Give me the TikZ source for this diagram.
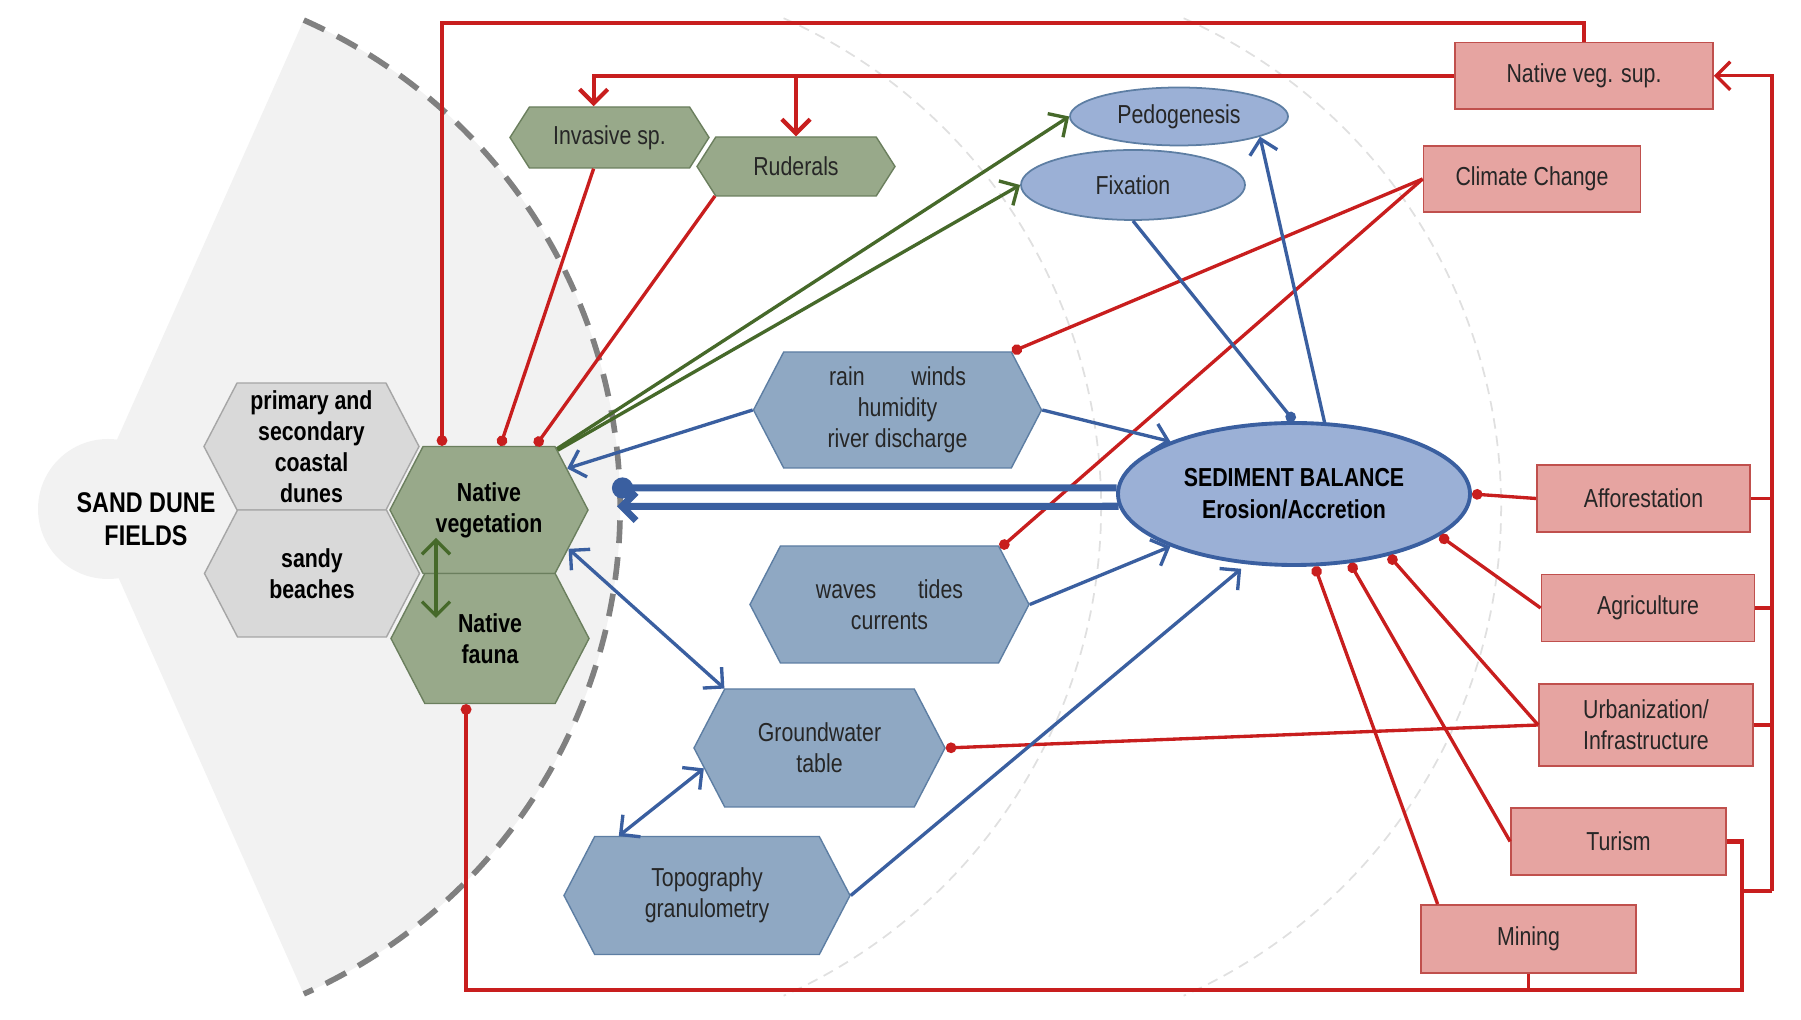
\documentclass[tikz,border=0pt]{standalone}
\usepackage{fontspec}
\setmainfont{Liberation Sans}[FakeStretch=0.82]
\usetikzlibrary{shapes.geometric,shapes.symbols,arrows.meta}
\definecolor{cFan}{HTML}{F2F2F2}
\definecolor{cDash}{HTML}{808080}
\definecolor{cFaint}{HTML}{E0E0E0}
\definecolor{cGreyHex}{HTML}{D9D9D9}
\definecolor{cSage}{HTML}{98A98A}
\definecolor{cSageLine}{HTML}{6B7F5E}
\definecolor{cSteel}{HTML}{8FA8C3}
\definecolor{cSteelLine}{HTML}{5D7EA3}
\definecolor{cLilac}{HTML}{9BB0D6}
\definecolor{cPink}{HTML}{E6A4A1}
\definecolor{cPinkLine}{HTML}{C0504D}
\definecolor{cRed}{HTML}{C81E1E}
\definecolor{cBlue}{HTML}{3A5FA0}
\definecolor{cGreen}{HTML}{46692A}
\tikzset{
  txt/.style={font=\fontsize{7.4}{8.8}\selectfont, text=black!85, align=center, inner sep=0pt},
  bold/.style={txt, font=\bfseries\fontsize{7.4}{8.8}\selectfont, text=black},
  hexa/.style={signal, signal to=east and west, signal pointer angle=125, line width=0.4pt},
  greyhex/.style={hexa, bold, fill=cGreyHex, draw=black!35},
  greenhex/.style={hexa, bold, fill=cSage, draw=cSageLine},
  smallhex/.style={hexa, txt, signal pointer angle=115, fill=cSage, draw=cSageLine},
  bluehex/.style={hexa, txt, fill=cSteel, draw=cSteelLine},
  blueell/.style={ellipse, txt, fill=cLilac, draw=cSteelLine, line width=0.5pt},
  pinkbox/.style={rectangle, txt, fill=cPink, draw=cPinkLine, line width=0.5pt},
  redwire/.style={draw=cRed, line width=0.95pt},
  bluewire/.style={draw=cBlue, line width=0.95pt},
  greenwire/.style={draw=cGreen, line width=0.95pt},
  faintarc/.style={draw=cFaint, line width=0.5pt, dash pattern=on 3pt off 2pt},
  dunearc/.style={draw=cDash, line width=1.6pt, dash pattern=on 6.5pt off 4pt},
  dot/.tip={Circle[length=3pt]}
}
\begin{document}
\begin{tikzpicture}[>={Straight Barb[length=4pt,width=8pt]}]
\useasboundingbox (0,0) rectangle (18.01,-10.20);
% dune field background
\fill[cFan] (0.87,-5.07) -- ++(66:5.33) arc[start angle=66,end angle=-66,radius=5.33] -- cycle;
\fill[cFan] (1.08,-5.09) circle (0.70);
\foreach \dx in {4.79,8.79}
  \draw[faintarc] (0.87+\dx,-5.07) ++(66:5.35) arc[start angle=66,end angle=-66,radius=5.35];
\draw[dunearc] (0.87,-5.07) ++(66:5.33) arc[start angle=66,end angle=-66,radius=5.33];

% nodes
\node[bold, font=\bfseries\fontsize{8.1}{9.4}\selectfont] (fields) at (1.46,-5.19) {SAND DUNE\\FIELDS};
\node[greyhex, minimum width=2.15cm, minimum height=1.27cm] (dunes) at (3.115,-4.465) {primary and\\secondary\\coastal\\dunes};
\node[greyhex, minimum width=2.15cm, minimum height=1.27cm] (beach) at (3.12,-5.735) {sandy\\beaches};
\node[greenhex, minimum width=1.98cm, minimum height=1.27cm] (veg) at (4.89,-5.10) {Native\\vegetation};
\node[greenhex, minimum width=1.98cm, minimum height=1.30cm] (fauna) at (4.90,-6.385) {Native\\fauna};
\node[smallhex, minimum width=1.99cm, minimum height=0.61cm] (inv) at (6.095,-1.375) {Invasive sp.};
\node[smallhex, minimum width=1.98cm, minimum height=0.59cm] (rud) at (7.96,-1.665) {Ruderals};
\node[bluehex, minimum width=2.88cm, minimum height=1.16cm] (rain) at (8.975,-4.10) {rain\hspace{1.8em}winds\\humidity\\river discharge};
\node[bluehex, minimum width=2.79cm, minimum height=1.17cm] (waves) at (8.895,-6.045) {waves\hspace{1.6em}tides\\currents};
\node[bluehex, minimum width=2.51cm, minimum height=1.18cm] (gw) at (8.195,-7.48) {Groundwater\\table};
\node[bluehex, minimum width=2.86cm, minimum height=1.18cm] (topo) at (7.07,-8.955) {Topography\\granulometry};
\node[blueell, minimum width=2.18cm, minimum height=0.58cm] (ped) at (11.79,-1.165) {Pedogenesis};
\node[blueell, minimum width=2.24cm, minimum height=0.70cm] (fix) at (11.33,-1.85) {Fixation};
\node[ellipse, bold, fill=cLilac, draw=cBlue, line width=1.1pt, minimum width=3.52cm, minimum height=1.42cm,
  font=\bfseries\fontsize{7.4}{9}\selectfont] (sed) at (12.94,-4.94) {SEDIMENT BALANCE\\Erosion/Accretion};
\node[pinkbox, minimum width=2.58cm, minimum height=0.665cm] (nvs) at (15.84,-0.758) {Native veg. sup.};
\node[pinkbox, minimum width=2.17cm, minimum height=0.665cm] (cc) at (15.32,-1.79) {Climate Change};
\node[pinkbox, minimum width=2.13cm, minimum height=0.67cm] (aff) at (16.435,-4.985) {Afforestation};
\node[pinkbox, minimum width=2.13cm, minimum height=0.67cm] (agr) at (16.48,-6.08) {Agriculture};
\node[pinkbox, minimum width=2.14cm, minimum height=0.82cm] (urb) at (16.46,-7.25) {Urbanization/\\Infrastructure};
\node[pinkbox, minimum width=2.15cm, minimum height=0.67cm] (tur) at (16.185,-8.415) {Turism};
\node[pinkbox, minimum width=2.15cm, minimum height=0.68cm] (min) at (15.285,-9.39) {Mining};

% red links
\coordinate (topL) at (4.42,-0.23);
\coordinate (busB) at (17.72,-8.91);
\coordinate (turB) at (17.42,-9.90);
\draw[redwire, line width=1.2pt, -dot] (nvs.north) |- (topL) -- (topL |- veg.north);
\draw[redwire, line width=1.2pt, ->] (nvs.west) -| (inv.117);
\draw[redwire, line width=1.2pt, ->] (rud.north |- nvs.west) -- (rud.north);
\draw[redwire, -dot] (inv.243) -- (veg.80);
\draw[redwire, -dot] (rud.200) -- (veg.54);
\draw[redwire, -dot] (cc.west) -- (rain.27);
\draw[redwire, -dot] (cc.west) -- (waves.27);
\draw[redwire, -dot] (aff.west) -- (sed.east);
\draw[redwire, -dot] (agr.west) -- (sed.344);
\draw[redwire, -dot] (urb.west) -- (sed.327);
\draw[redwire, -dot] (urb.west) -- (gw.east);
\draw[redwire, -dot] (tur.west) -- (sed.309);
\draw[redwire, -dot] (min.159) -- (sed.286);
\draw[redwire, ->] (busB) |- (nvs.east);
\draw[redwire] (aff.east) -- (aff.east -| busB);
\draw[redwire] (agr.east) -- (agr.east -| busB);
\draw[redwire] (urb.east) -- (urb.east -| busB);
\draw[redwire] (turB |- busB) -- (busB);
\draw[redwire] (min.south) -- (min.south |- turB);
\draw[redwire, line width=1.3pt, -dot] (tur.east) -| (turB) -| (fauna.250);

% green links
\coordinate (g1) at (4.36,-5.38);
\coordinate (g2) at (4.36,-6.18);
\draw[greenwire, ->] (veg.42) -- (ped.west);
\draw[greenwire, ->] (veg.41) -- (fix.west);
\draw[greenwire, <->] (g1) -- (g2);

% blue links
\coordinate (bdot) at (6.12,-4.88);
\coordinate (barr) at (6.17,-5.065);
\draw[bluewire, ->] (rain.west) -- (veg.28);
\draw[bluewire, ->] (rain.east) -- (sed.157);
\draw[bluewire, ->] (waves.east) -- (sed.203);
\draw[bluewire, ->, shorten >=2pt] (topo.east) -- (sed.236);
\draw[bluewire, <->] (veg.334) -- (gw.148);
\draw[bluewire, <->] (gw.190) -- (topo.146);
\draw[bluewire, -dot] (fix.south) -- (sed.north);
\draw[bluewire, ->] (sed.67) -- (ped.346);
\draw[bluewire, line width=2pt, -{Circle[length=6pt]}] (sed.178) -- (bdot);
\draw[bluewire, line width=2pt, ->] (sed.184) -- (barr);
\end{tikzpicture}
\end{document}
